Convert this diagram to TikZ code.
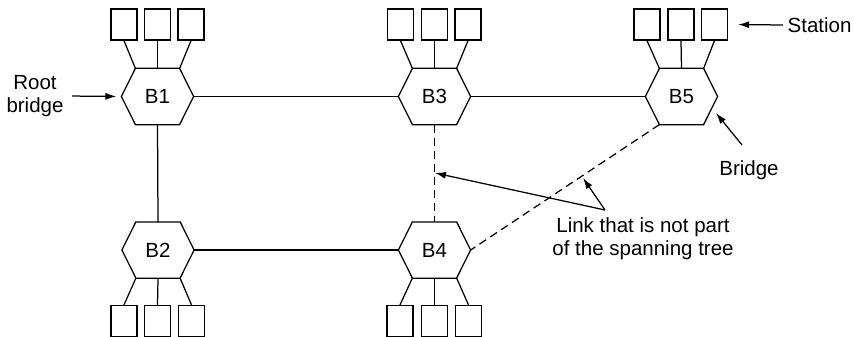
\documentclass[tikz,border=0pt]{standalone}
\usepackage{fontspec}
\setmainfont{Liberation Sans}
\usetikzlibrary{arrows.meta}
\begin{document}
\begin{tikzpicture}[x=1pt,y=-1pt,line width=1.25pt,
  bridgebox/.style={minimum width=71pt,minimum height=55pt,inner sep=0pt,font=\fontsize{20.5}{22}\selectfont},
  stationbox/.style={draw,minimum width=26pt,minimum height=31pt,inner sep=0pt},
  lbl/.style={font=\fontsize{20.5}{23}\selectfont,align=center,inner sep=2pt},
  arr/.style={-{Latex[length=11pt,width=7pt]}},
  link/.style={dash pattern=on 8pt off 5pt}]
\useasboundingbox (0,0) rectangle (854,337);
% bridges
\node[bridgebox] (B1) at (157.5,96.5) {B1};
\node[bridgebox] (B3) at (434.5,96.5) {B3};
\node[bridgebox] (B5) at (681.5,96.5) {B5};
\node[bridgebox] (B2) at (158,250) {B2};
\node[bridgebox] (B4) at (434.5,250) {B4};
\foreach \b in {B1,B2,B3,B4,B5}{
  \draw[line join=miter] ([xshift=14pt]\b.north west) -- ([xshift=-14pt]\b.north east) -- (\b.east)
    -- ([xshift=-14pt]\b.south east) -- ([xshift=14pt]\b.south west) -- (\b.west) -- cycle;
}
% stations top
\node[stationbox] (s1a) at (124,24.5) {};
\node[stationbox] (s1b) at (157.5,24.5) {};
\node[stationbox] (s1c) at (191,24.5) {};
\node[stationbox] (s3a) at (400.5,24.5) {};
\node[stationbox] (s3b) at (434.5,24.5) {};
\node[stationbox] (s3c) at (468,24.5) {};
\node[stationbox] (s5a) at (647,24.5) {};
\node[stationbox] (s5b) at (681,24.5) {};
\node[stationbox] (s5c) at (714.5,24.5) {};
% stations bottom
\node[stationbox] (s2a) at (124,321) {};
\node[stationbox] (s2b) at (157.5,321) {};
\node[stationbox] (s2c) at (191.5,321) {};
\node[stationbox] (s4a) at (400,321) {};
\node[stationbox] (s4b) at (434.5,321) {};
\node[stationbox] (s4c) at (468.5,321) {};
% station links
\foreach \b/\s in {B1/s1,B3/s3,B5/s5}{
  \draw (\s a.south) -- ([xshift=14pt]\b.north west);
  \draw (\s b.south) -- (\b.north);
  \draw (\s c.south) -- ([xshift=-14pt]\b.north east);
}
\foreach \b/\s in {B2/s2,B4/s4}{
  \draw (\s a.north) -- ([xshift=14pt]\b.south west);
  \draw (\s b.north) -- (\b.south);
  \draw (\s c.north) -- ([xshift=-14pt]\b.south east);
}
% bridge links
\draw (B1.east) -- (B3.west);
\draw (B3.east) -- (B5.west);
\draw (B1.south) -- (B2.north);
\draw (B2.east) -- (B4.west);
\draw[link] (B3.south) -- (B4.north);
\draw[link] ([xshift=14pt]B5.south west) -- (B4.east);
% labels
\node[lbl] (root) at (35,96) {Root\\bridge};
\draw[arr,shorten <=6pt,shorten >=5pt] (root.east) -- (B1.west);
\node[lbl,anchor=west] (stn) at (785,25) {Station};
\draw[arr,shorten >=10pt,shorten <=2pt] (stn.west) -- (s5c.east);
\node[lbl] (brg) at (749,170) {Bridge};
\coordinate (brgtail) at (742,145);
\coordinate (brgtip) at (716,113);
\draw[arr] (brgtail) -- (brgtip);
\node[lbl] (lnk) at (643,239) {Link that is not part\\of the spanning tree};
\coordinate (lnktail) at (605,210);
\coordinate (tipa) at (435,173);
\coordinate (tipb) at (583,178);
\draw[arr] (lnktail) -- (tipa);
\draw[arr] (lnktail) -- (tipb);
\end{tikzpicture}
\end{document}
